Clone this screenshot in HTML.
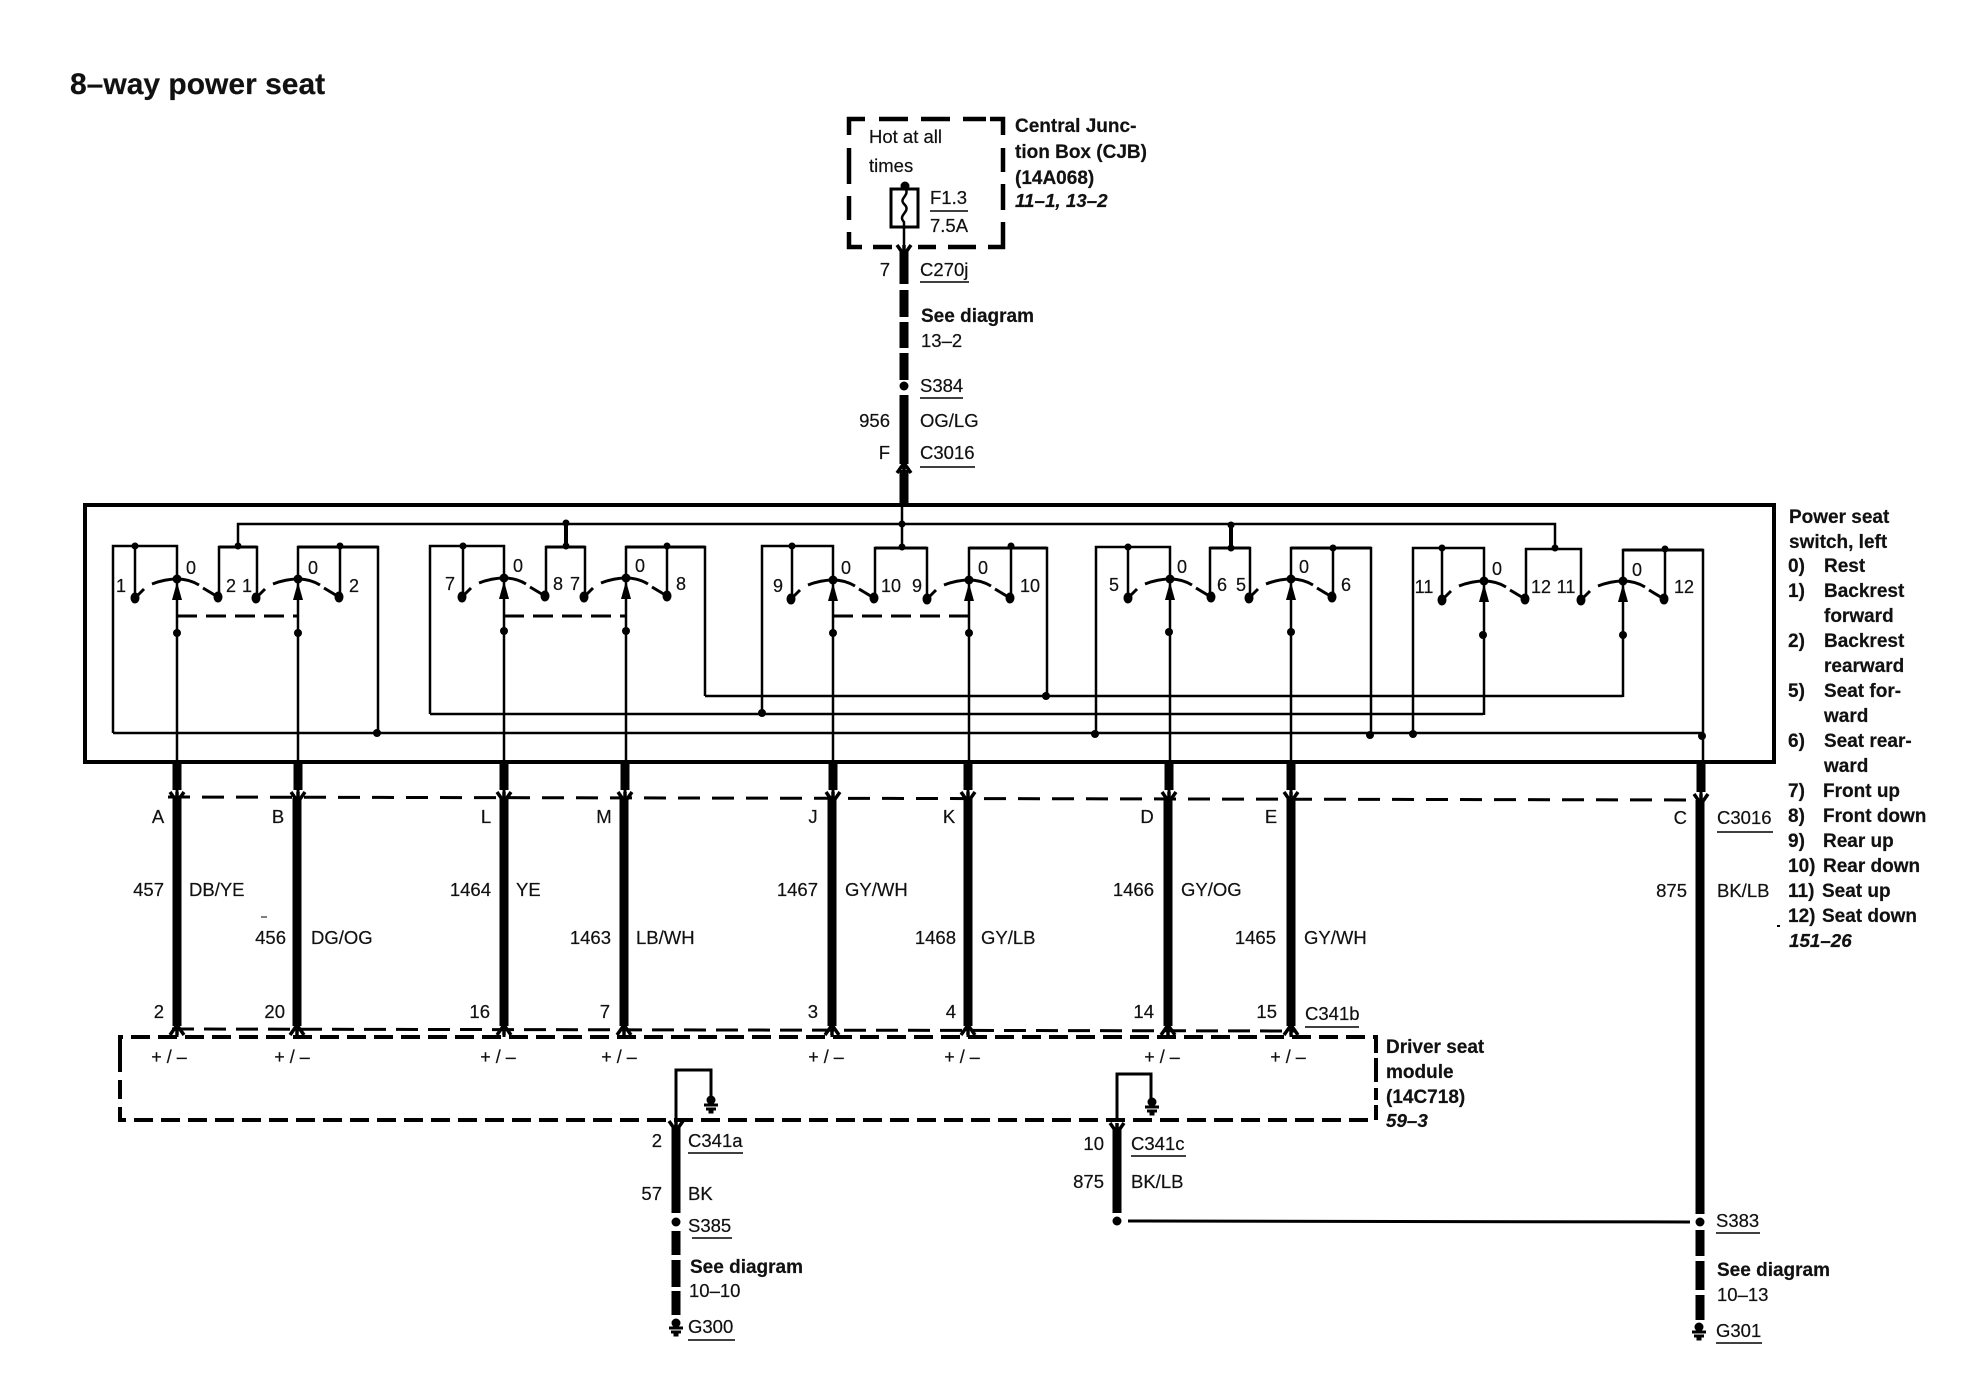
<!DOCTYPE html>
<html><head><meta charset="utf-8"><title>8-way power seat</title>
<style>
html,body{margin:0;padding:0;background:#fff}
svg{display:block}
text{font-family:"Liberation Sans",sans-serif;font-size:18.5px;fill:#111;stroke:#111;stroke-width:.2px}
.b{font-weight:bold;font-size:19px}
.i{font-weight:bold;font-style:italic;font-size:18.8px}
.e{text-anchor:end}
.m{text-anchor:middle}
.s{font-size:18px;text-anchor:middle}
</style></head><body>
<svg width="1964" height="1392" viewBox="0 0 1964 1392" xmlns="http://www.w3.org/2000/svg">
<defs>
<g id="sw">
<path d="M-42 19L-33 10M-25 5Q-12 0 0 0Q12 0 22 6M26 9L41 18" fill="none" stroke="#000" stroke-width="3"/>
<circle r="4.5" fill="#000"/>
<ellipse cx="-42" cy="19" rx="4.5" ry="5.5" fill="#000"/>
<ellipse cx="41" cy="18" rx="4.5" ry="5.5" fill="#000"/>
<path d="M0 3L-5 21L5 21Z" fill="#000"/>
</g>
<path id="cd" d="M-7 -6L0 4L7 -6M0 -6V6" fill="none" stroke="#000" stroke-width="3.5"/>
<path id="cu" d="M-7 6L0 -4L7 6M0 6V-6" fill="none" stroke="#000" stroke-width="3.5"/>
<g id="gnd"><circle cy="0" r="4.5" fill="#000"/><path d="M-7 5H7M-5 9H5M-2.5 12H2.5" stroke="#000" stroke-width="3"/></g>
</defs>

<text x="70" y="94" style="font-size:30px;font-weight:bold">8–way power seat</text>

<!-- CJB -->
<path d="M849 135V119H865M879 119H908M921 119H950M963 119H986M990 119H1003V135M1003 148V172M1003 184V210M1003 222V247H988M976 247H948M936 247H918M892 247H873M862 247H849V232M849 220V196M849 184V148" fill="none" stroke="#000" stroke-width="4.5"/>
<rect x="891" y="189" width="27" height="38" fill="#fff" stroke="#000" stroke-width="3"/>
<circle cx="905" cy="186" r="4.5" fill="#000"/>
<path d="M905 188C911 196 897 198 905 205C911 212 897 215 904 222V247" fill="none" stroke="#000" stroke-width="2.5"/>
<text x="869" y="143">Hot at all</text>
<text x="869" y="172">times</text>
<text x="930" y="204">F1.3</text>
<path d="M930 211H968" stroke="#000" stroke-width="1.5"/>
<text x="930" y="232">7.5A</text>
<text class="b" x="1015" y="132">Central Junc-</text>
<text class="b" x="1015" y="158">tion Box (CJB)</text>
<text class="b" x="1015" y="184">(14A068)</text>
<text class="i" x="1015" y="207">11–1, 13–2</text>

<!-- top wire -->
<g stroke="#000" stroke-width="9" fill="none">
<path d="M904 250V284M904 290V317M904 322V348M904 353V380M904 395V464M904 470V504"/>
</g>
<use href="#cd" x="904" y="251"/>
<circle cx="904" cy="386" r="4.5" fill="#000"/>
<use href="#cu" x="904" y="467"/>
<text class="e" x="890" y="276">7</text>
<text x="920" y="276">C270j</text><path d="M920 282H969" stroke="#000" stroke-width="1.5"/>
<text class="b" x="921" y="322">See diagram</text>
<text x="921" y="347">13–2</text>
<text x="920" y="392">S384</text><path d="M920 398H963" stroke="#000" stroke-width="1.5"/>
<text class="e" x="890" y="427">956</text>
<text x="920" y="427">OG/LG</text>
<text class="e" x="890" y="459">F</text>
<text x="920" y="459">C3016</text><path d="M920 467H975" stroke="#000" stroke-width="1.5"/>

<!-- outer switch box -->
<rect x="85" y="505" width="1689" height="257" fill="none" stroke="#000" stroke-width="4"/>

<!-- internal wiring -->
<g fill="none" stroke="#000" stroke-width="2.5">
<path d="M238 547V524H1555V548"/>
<path d="M902 504V547"/>
<path d="M113 733H1702"/>
<path d="M430 714H1483"/>
<path d="M705 696H1623"/>
<path d="M113 733V546H177V762"/>
<path d="M135 546V598"/>
<path d="M219 597V547H257V598"/>
<path d="M298 762V547H378V733"/>
<path d="M340 547V597"/>
<path d="M430 714V546H504V762"/>
<path d="M463 546V597"/>
<path d="M546 596V547H585V597"/>
<path d="M626 762V547H705V696"/>
<path d="M667 547V596"/>
<path d="M762 713V546H833V762"/>
<path d="M792 546V599"/>
<path d="M875 598V548H927V599"/>
<path d="M969 762V548H1047V696"/>
<path d="M1011 548V598"/>
<path d="M1096 734V547H1170V762"/>
<path d="M1128 547V598"/>
<path d="M1210 597V548H1250V598"/>
<path d="M1291 762V548H1371V735"/>
<path d="M1333 548V597"/>
<path d="M1413 734V548H1484V715"/>
<path d="M1442 548V601"/>
<path d="M1526 599V549H1581V601"/>
<path d="M1623 697V550H1703V762"/>
<path d="M1665 550V600"/>
<path d="M177 616H298M504 616H626M833 616H969" stroke-dasharray="20 9" stroke-width="3"/>
</g>
<g stroke="#000" stroke-width="4" fill="none"><path d="M566 524V547M1231 525V548"/></g>
<g stroke="#000" stroke-width="3" fill="none">
<path d="M219 547H257M298 547H378M546 547H585M626 547H705M875 548H927M969 548H1047M1210 548H1250M1291 548H1371M1623 550H1703"/>
</g>
<use href="#sw" x="177" y="579"/><use href="#sw" x="298" y="579"/>
<use href="#sw" x="504" y="578"/><use href="#sw" x="626" y="578"/>
<use href="#sw" x="833" y="580"/><use href="#sw" x="969" y="580"/>
<use href="#sw" x="1170" y="579"/><use href="#sw" x="1291" y="579"/>
<use href="#sw" x="1484" y="581"/><use href="#sw" x="1623" y="581"/>
<g fill="#000">
<circle cx="135" cy="546" r="3.5"/><circle cx="238" cy="546" r="3.5"/><circle cx="340" cy="546" r="3.5"/>
<circle cx="463" cy="546" r="3.5"/><circle cx="566" cy="546" r="3.5"/><circle cx="667" cy="546" r="3.5"/>
<circle cx="792" cy="546" r="3.5"/><circle cx="902" cy="547" r="3.5"/><circle cx="1011" cy="546" r="3.5"/>
<circle cx="1128" cy="547" r="3.5"/><circle cx="1231" cy="548" r="3.5"/><circle cx="1333" cy="548" r="3.5"/>
<circle cx="1442" cy="548" r="3.5"/><circle cx="1555" cy="548" r="3.5"/><circle cx="1665" cy="549" r="3.5"/>
<circle cx="566" cy="523" r="3.5"/><circle cx="902" cy="524" r="3.5"/><circle cx="1231" cy="525" r="3.5"/>
<circle cx="177" cy="633" r="4"/><circle cx="298" cy="633" r="4"/><circle cx="504" cy="631" r="4"/><circle cx="626" cy="631" r="4"/>
<circle cx="833" cy="633" r="4"/><circle cx="969" cy="633" r="4"/><circle cx="1169" cy="632" r="4"/><circle cx="1291" cy="632" r="4"/>
<circle cx="1483" cy="635" r="4"/><circle cx="1623" cy="635" r="4"/>
<circle cx="377" cy="733" r="4"/><circle cx="762" cy="713" r="4"/><circle cx="1046" cy="696" r="4"/>
<circle cx="1095" cy="734" r="4"/><circle cx="1370" cy="735" r="4"/><circle cx="1413" cy="734" r="4"/><circle cx="1702" cy="736" r="4"/>
</g>

<!-- switch labels -->
<g>
<text class="s" x="121" y="592">1</text><text class="s" x="191" y="574">0</text><text class="s" x="231" y="592">2</text>
<text class="s" x="247" y="592">1</text><text class="s" x="313" y="574">0</text><text class="s" x="354" y="592">2</text>
<text class="s" x="450" y="590">7</text><text class="s" x="518" y="572">0</text><text class="s" x="558" y="590">8</text>
<text class="s" x="575" y="590">7</text><text class="s" x="640" y="572">0</text><text class="s" x="681" y="590">8</text>
<text class="s" x="778" y="592">9</text><text class="s" x="846" y="574">0</text><text class="s" x="891" y="592">10</text>
<text class="s" x="917" y="592">9</text><text class="s" x="983" y="574">0</text><text class="s" x="1030" y="592">10</text>
<text class="s" x="1114" y="591">5</text><text class="s" x="1182" y="573">0</text><text class="s" x="1222" y="591">6</text>
<text class="s" x="1241" y="591">5</text><text class="s" x="1304" y="573">0</text><text class="s" x="1346" y="591">6</text>
<text class="s" x="1424" y="593">11</text><text class="s" x="1497" y="575">0</text><text class="s" x="1541" y="593">12</text>
<text class="s" x="1566" y="593">11</text><text class="s" x="1637" y="576">0</text><text class="s" x="1684" y="593">12</text>
</g>

<!-- power seat legend -->
<g>
<text class="b" x="1789" y="523">Power seat</text>
<text class="b" x="1789" y="548">switch, left</text>
<text class="b" x="1788" y="572">0)</text><text class="b" x="1824" y="572">Rest</text>
<text class="b" x="1788" y="597">1)</text><text class="b" x="1824" y="597">Backrest</text>
<text class="b" x="1824" y="622">forward</text>
<text class="b" x="1788" y="647">2)</text><text class="b" x="1824" y="647">Backrest</text>
<text class="b" x="1824" y="672">rearward</text>
<text class="b" x="1788" y="697">5)</text><text class="b" x="1824" y="697">Seat for-</text>
<text class="b" x="1824" y="722">ward</text>
<text class="b" x="1788" y="747">6)</text><text class="b" x="1824" y="747">Seat rear-</text>
<text class="b" x="1824" y="772">ward</text>
<text class="b" x="1788" y="797">7)</text><text class="b" x="1823" y="797">Front up</text>
<text class="b" x="1788" y="822">8)</text><text class="b" x="1823" y="822">Front down</text>
<text class="b" x="1788" y="847">9)</text><text class="b" x="1823" y="847">Rear up</text>
<text class="b" x="1788" y="872">10)</text><text class="b" x="1823" y="872">Rear down</text>
<text class="b" x="1788" y="897">11)</text><text class="b" x="1822" y="897">Seat up</text>
<text class="b" x="1788" y="922">12)</text><text class="b" x="1822" y="922">Seat down</text>
<text class="i" x="1789" y="947">151–26</text>
</g>
<rect x="1777" y="925" width="3" height="2" fill="#000"/>
<path d="M261 917H267" stroke="#000" stroke-width="1"/>

<!-- thick wires -->
<g stroke="#000" stroke-width="9" fill="none">
<path d="M177 764V790M298 764V790M504 764V790M625 764V790M833 764V790M968 764V790M1169 764V790M1291 764V790M1701 764V792"/>
<path d="M177 798V1026M297 798V1026M504 798V1026M624 798V1026M832 798V1026M968 798V1026M1168 798V1026M1291 798V1026M1700 800V1214"/>
</g>
<path d="M168 797L1698 800" stroke="#000" stroke-width="3" stroke-dasharray="22 12" fill="none"/>
<path d="M172 1029L1296 1031" stroke="#000" stroke-width="3" stroke-dasharray="22 10" fill="none"/>
<g>
<use href="#cd" x="177" y="798"/><use href="#cd" x="298" y="798"/><use href="#cd" x="504" y="798"/><use href="#cd" x="625" y="798"/>
<use href="#cd" x="833" y="798"/><use href="#cd" x="968" y="798"/><use href="#cd" x="1169" y="798"/><use href="#cd" x="1291" y="798"/><use href="#cd" x="1701" y="800"/>
<use href="#cu" x="177" y="1029"/><use href="#cu" x="297" y="1029"/><use href="#cu" x="504" y="1029"/><use href="#cu" x="624" y="1029"/>
<use href="#cu" x="832" y="1029"/><use href="#cu" x="968" y="1029"/><use href="#cu" x="1168" y="1029"/><use href="#cu" x="1291" y="1029"/>
</g>
<path d="M177 790V798M298 790V798M504 790V798M625 790V798M833 790V798M968 790V798M1169 790V798M1291 790V798M1701 792V800" stroke="#000" stroke-width="3"/>
<path d="M177 1030V1037M297 1030V1037M504 1030V1037M624 1030V1037M832 1030V1037M968 1030V1037M1168 1030V1037M1291 1030V1037" stroke="#000" stroke-width="3"/>

<!-- wire labels -->
<g>
<text class="m" x="158" y="823">A</text><text class="m" x="278" y="823">B</text><text class="m" x="486" y="823">L</text><text class="m" x="604" y="823">M</text>
<text class="m" x="813" y="823">J</text><text class="m" x="949" y="823">K</text><text class="m" x="1147" y="823">D</text><text class="m" x="1271" y="823">E</text>
<text class="e" x="1687" y="824">C</text>
<text x="1717" y="824">C3016</text><path d="M1717 832H1773" stroke="#000" stroke-width="1.5"/>

<text class="e" x="164" y="896">457</text><text x="189" y="896">DB/YE</text>
<text class="e" x="286" y="944">456</text><text x="311" y="944">DG/OG</text>
<text class="e" x="491" y="896">1464</text><text x="516" y="896">YE</text>
<text class="e" x="611" y="944">1463</text><text x="636" y="944">LB/WH</text>
<text class="e" x="818" y="896">1467</text><text x="845" y="896">GY/WH</text>
<text class="e" x="956" y="944">1468</text><text x="981" y="944">GY/LB</text>
<text class="e" x="1154" y="896">1466</text><text x="1181" y="896">GY/OG</text>
<text class="e" x="1276" y="944">1465</text><text x="1304" y="944">GY/WH</text>
<text class="e" x="1687" y="897">875</text><text x="1717" y="897">BK/LB</text>

<text class="e" x="164" y="1018">2</text><text class="e" x="285" y="1018">20</text><text class="e" x="490" y="1018">16</text><text class="e" x="610" y="1018">7</text>
<text class="e" x="818" y="1018">3</text><text class="e" x="956" y="1018">4</text><text class="e" x="1154" y="1018">14</text><text class="e" x="1277" y="1018">15</text>
<text x="1305" y="1020">C341b</text><path d="M1305 1027H1359" stroke="#000" stroke-width="1.5"/>
</g>

<!-- module -->
<path d="M120 1053V1037H1376V1053" fill="none" stroke="#000" stroke-width="4" stroke-dasharray="19 8"/>
<path d="M120 1053V1120H1376V1105" fill="none" stroke="#000" stroke-width="4" stroke-dasharray="19 8"/>
<path d="M1376 1058V1082M1376 1088V1100" stroke="#000" stroke-width="4"/>
<path d="M120 1037V1050M120 1120V1108" stroke="#000" stroke-width="4"/>
<g>
<text class="m" x="169" y="1063" style="font-size:18px">+ / –</text><text class="m" x="292" y="1063" style="font-size:18px">+ / –</text>
<text class="m" x="498" y="1063" style="font-size:18px">+ / –</text><text class="m" x="619" y="1063" style="font-size:18px">+ / –</text>
<text class="m" x="826" y="1063" style="font-size:18px">+ / –</text><text class="m" x="962" y="1063" style="font-size:18px">+ / –</text>
<text class="m" x="1162" y="1063" style="font-size:18px">+ / –</text><text class="m" x="1288" y="1063" style="font-size:18px">+ / –</text>
</g>
<text class="b" x="1386" y="1053">Driver seat</text>
<text class="b" x="1386" y="1078">module</text>
<text class="b" x="1386" y="1103">(14C718)</text>
<text class="i" x="1386" y="1127">59–3</text>

<!-- grounds in module -->
<g fill="none" stroke="#000" stroke-width="3">
<path d="M676 1120V1070H711V1097"/>
<path d="M1117 1122V1074H1151V1099"/>
</g>
<use href="#gnd" x="711" y="1100"/>
<use href="#gnd" x="1152" y="1102"/>

<!-- lower wires -->
<g stroke="#000" stroke-width="9" fill="none">
<path d="M676 1126V1213M676 1231V1255M676 1260V1287M676 1291V1315"/>
<path d="M1117 1128V1213"/>
<path d="M1700 1230V1256M1700 1261V1290M1700 1295V1320"/>
</g>
<use href="#cd" x="676" y="1127"/><use href="#cd" x="1117" y="1129"/>
<path d="M1128 1221L1690 1222" stroke="#000" stroke-width="3"/>
<g fill="#000"><circle cx="676" cy="1222" r="4.5"/><circle cx="1117" cy="1221" r="4.5"/><circle cx="1700" cy="1222" r="4.5"/></g>
<use href="#gnd" x="676" y="1323"/>
<use href="#gnd" x="1699" y="1327"/>

<text class="e" x="662" y="1147">2</text>
<text x="688" y="1147">C341a</text><path d="M688 1153H743" stroke="#000" stroke-width="1.5"/>
<text class="e" x="662" y="1200">57</text><text x="688" y="1200">BK</text>
<text x="688" y="1232">S385</text><path d="M692 1238H732" stroke="#000" stroke-width="1.5"/>
<text class="b" x="690" y="1273">See diagram</text>
<text x="689" y="1297">10–10</text>
<text x="688" y="1333">G300</text><path d="M688 1340H735" stroke="#000" stroke-width="1.5"/>

<text class="e" x="1104" y="1150">10</text>
<text x="1131" y="1150">C341c</text><path d="M1131 1156H1186" stroke="#000" stroke-width="1.5"/>
<text class="e" x="1104" y="1188">875</text><text x="1131" y="1188">BK/LB</text>

<text x="1716" y="1227">S383</text><path d="M1716 1233H1760" stroke="#000" stroke-width="1.5"/>
<text class="b" x="1717" y="1276">See diagram</text>
<text x="1717" y="1301">10–13</text>
<text x="1716" y="1337">G301</text><path d="M1716 1343H1762" stroke="#000" stroke-width="1.5"/>
</svg>
</body></html>
